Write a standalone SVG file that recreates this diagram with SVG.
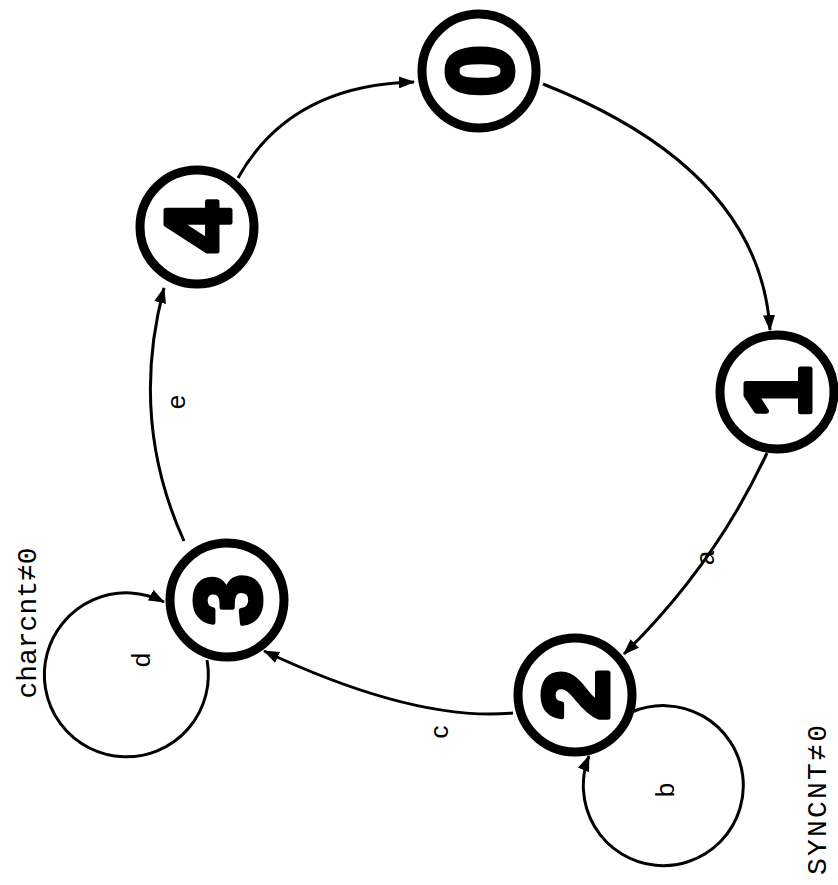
<svg xmlns="http://www.w3.org/2000/svg" width="838" height="885" viewBox="0 0 838 885">
<style>
.st{fill:#fff;stroke:#000;stroke-width:9}
.dg{font-family:"Liberation Sans",Arial,sans-serif;font-weight:bold;font-size:92px;fill:#000;stroke:#000;stroke-width:5;stroke-linejoin:round}
.ed{fill:none;stroke:#000;stroke-width:3}
.lb{font-family:"Liberation Sans",Arial,sans-serif;font-size:26px;fill:#000}
.cn{font-family:"Liberation Mono","Courier New",monospace;font-size:28px;fill:#000}
</style>
<defs>
<marker id="ah" viewBox="0 0 16 12" refX="15" refY="6" markerWidth="16" markerHeight="12" markerUnits="userSpaceOnUse" orient="auto">
<path d="M0,0 L16,6 L0,12 Z" fill="#000"/>
</marker>
</defs>
<rect width="838" height="885" fill="#fff"/>
<g id="connectors">
<path class="ed" d="M543,84 Q760,170 770,330" marker-end="url(#ah)"/>
<path class="ed" d="M767,453 Q715,565 624,654" marker-end="url(#ah)"/>
<path class="ed" d="M513,713 Q415,722 264,651" marker-end="url(#ah)"/>
<path class="ed" d="M184,541 Q129,420 164,288" marker-end="url(#ah)"/>
<path class="ed" d="M238,178 Q290,85 414,82" marker-end="url(#ah)"/>
<path class="ed" d="M632,712 A80,80 0 1 1 589,756" marker-end="url(#ah)"/>
<path class="ed" d="M207,660 A82,82 0 1 1 164,602" marker-end="url(#ah)"/>
<text class="lb" transform="translate(714,558) rotate(-90)" text-anchor="middle">a</text>
<text class="lb" transform="translate(674,790) rotate(-90)" text-anchor="middle">b</text>
<text class="lb" transform="translate(448,732) rotate(-90)" text-anchor="middle">c</text>
<text class="lb" transform="translate(150,660) rotate(-90)" text-anchor="middle">d</text>
<text class="lb" transform="translate(185,402) rotate(-90)" text-anchor="middle">e</text>
<text class="cn" transform="translate(36,623) rotate(-90)" text-anchor="middle">charcnt≠0</text>
<text class="cn" transform="translate(826,800) rotate(-90)" text-anchor="middle" textLength="150" lengthAdjust="spacing">SYNCNT≠0</text>
</g>
<g id="node0"><circle class="st" cx="479" cy="71" r="57"/><text class="dg" transform="translate(479,71) rotate(-90)" x="0" y="33" text-anchor="middle">0</text></g>
<g id="node1"><circle class="st" cx="777" cy="392" r="57"/><text class="dg" transform="translate(777,392) rotate(-90)" x="0" y="33" text-anchor="middle">1</text></g>
<g id="node2"><circle class="st" cx="575" cy="695" r="57"/><text class="dg" transform="translate(575,695) rotate(-90)" x="0" y="33" text-anchor="middle">2</text></g>
<g id="node3"><circle class="st" cx="227" cy="600" r="57"/><text class="dg" transform="translate(227,600) rotate(-90)" x="0" y="33" text-anchor="middle">3</text></g>
<g id="node4"><circle class="st" cx="197" cy="227" r="57"/><text class="dg" transform="translate(197,227) rotate(-90)" x="0" y="33" text-anchor="middle">4</text></g>
</svg>
